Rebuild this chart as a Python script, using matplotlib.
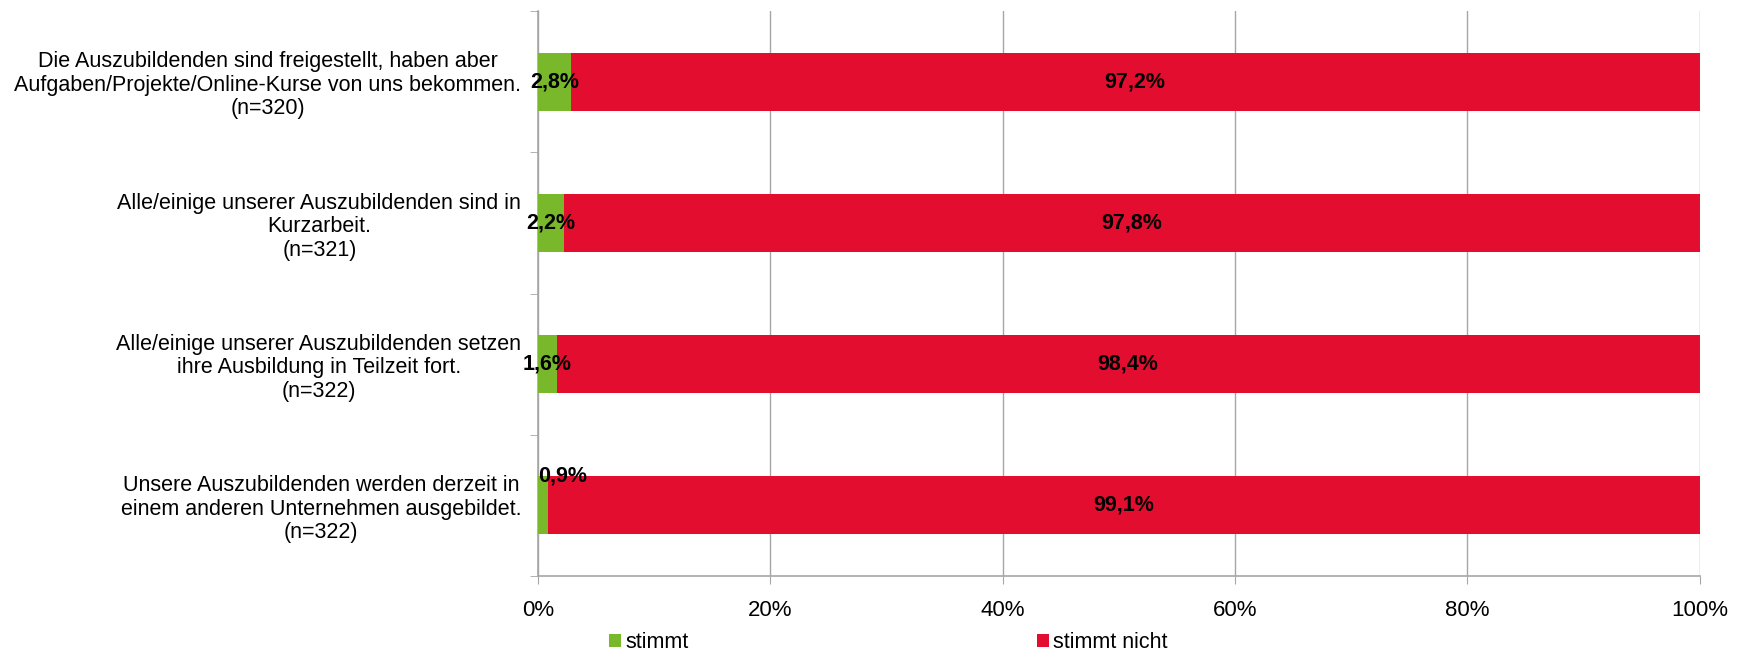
import matplotlib.pyplot as plt
import numpy as np
from matplotlib.ticker import FixedLocator

plt.rcParams['font.family'] = ['Liberation Sans', 'DejaVu Sans']

categories = [
    "Die Auszubildenden sind freigestellt, haben aber\nAufgaben/Projekte/Online-Kurse von uns bekommen.\n(n=320)",
    "Alle/einige unserer Auszubildenden sind in\nKurzarbeit.\n(n=321)",
    "Alle/einige unserer Auszubildenden setzen\nihre Ausbildung in Teilzeit fort.\n(n=322)",
    "Unsere Auszubildenden werden derzeit in\neinem anderen Unternehmen ausgebildet.\n(n=322)",
]
stimmt = [2.8, 2.2, 1.6, 0.9]
stimmt_nicht = [97.2, 97.8, 98.4, 99.1]
series_names = ["stimmt", "stimmt nicht"]

GREEN = '#78B82A'
RED = '#E30D2F'
GRID = '#A6A6A6'

def fmt(v):
    return f"{v:.1f}%".replace('.', ',')

fig = plt.figure(figsize=(17.44, 6.52), dpi=100)
ax = fig.add_axes([0.3085, 0.1166, 0.666, 0.8664])

y = np.arange(len(categories))
h = 0.41
ax.barh(y, stimmt, height=h, color=GREEN, label=series_names[0], zorder=3)
ax.barh(y, stimmt_nicht, left=stimmt, height=h, color=RED, label=series_names[1], zorder=3)

# data labels
LBL = 15.5
for i in range(len(categories)):
    if stimmt[i] < 1:
        # small segment: label sits on the upper edge, left aligned
        ax.text(0, y[i] - h / 2, fmt(stimmt[i]), ha='left', va='center',
                fontsize=LBL, fontweight='bold', zorder=5)
    else:
        ax.text(stimmt[i] / 2, y[i], fmt(stimmt[i]), ha='center', va='center',
                fontsize=LBL, fontweight='bold', zorder=5)
    ax.text(stimmt[i] + stimmt_nicht[i] / 2, y[i], fmt(stimmt_nicht[i]),
            ha='center', va='center', fontsize=LBL, fontweight='bold', zorder=5)

ax.set_xlim(0, 100)
ax.set_ylim(len(categories) - 0.5, -0.5)
ax.set_xticks(np.arange(0, 101, 20))
ax.set_xticklabels([f"{t}%" for t in range(0, 101, 20)], fontsize=16)
ax.set_yticks(y)
ax.set_yticklabels(categories, fontsize=15.5, multialignment='center', linespacing=1.15)
ax.yaxis.set_minor_locator(FixedLocator(np.arange(-0.5, len(categories), 1)))
ax.tick_params(axis='y', which='major', length=0, pad=12)
ax.tick_params(axis='y', which='minor', length=6, color=GRID, direction='out')
ax.tick_params(axis='x', length=6, color=GRID, pad=11)

ax.grid(axis='x', color=GRID, linewidth=1, zorder=0)
for s in ['top', 'right']:
    ax.spines[s].set_visible(False)
for s in ['left', 'bottom']:
    ax.spines[s].set_color(GRID)
    ax.spines[s].set_linewidth(1.2)

leg = fig.legend(loc='lower left', bbox_to_anchor=(0.338, -0.032), ncol=2, frameon=False,
                 fontsize=15.5, handlelength=0.55, handleheight=0.55, handletextpad=0.2,
                 columnspacing=16.2)

fig.savefig('out.png', dpi=100)
